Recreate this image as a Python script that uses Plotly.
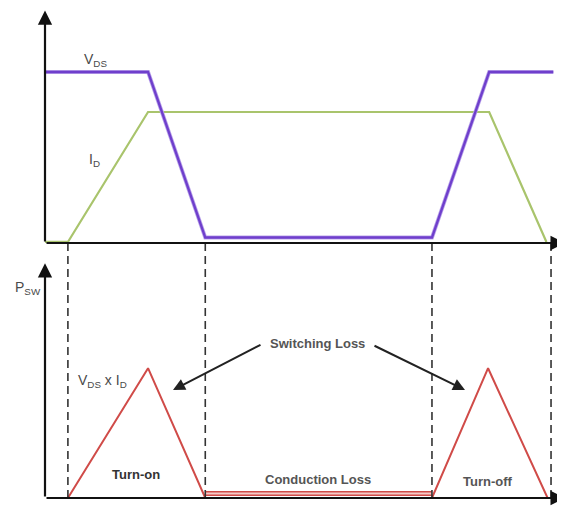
import plotly.graph_objects as go

# time axis (arbitrary units), events where switching happens
t_events = [1.0, 7.0, 16.9, 22.1]

# top panel: drain-source voltage and drain current
t_vds = [0.0, 4.5, 7.0, 16.9, 19.4, 22.2]
vds = [10.0, 10.0, 0.32, 0.32, 10.0, 10.0]

t_id = [0.0, 1.0, 4.5, 19.4, 21.9]
i_d = [0.06, 0.06, 7.66, 7.66, 0.06]

# bottom panel: switching power VDS x ID
t_on = [1.0, 4.5, 7.0]
p_on = [0.0, 5.5, 0.0]
t_cond = [7.0, 16.9]
p_cond = [0.19, 0.19]
t_off = [16.9, 19.35, 21.95]
p_off = [0.0, 5.5, 0.0]

# page body has an 8px margin, so the figure is drawn 8px smaller
OFF = 8
W, H = 565 - OFF, 523 - OFF
X_MIN, X_MAX = -1.616, 22.71
TOP_MAX = 13.74
BOT_MAX = 10.51
T_END = 22.7

purple = "#6f3fcc"
green = "#a9c46c"
red = "#d04b48"
ink = "#111111"
txt = "#4a4a4a"


def paper(px, py):
    # reference-window pixels -> paper coordinates
    return (px - OFF) / W, 1 - (py - OFF) / H


fig = go.Figure()

fig.add_trace(go.Scatter(x=t_id, y=i_d, mode="lines", xaxis="x", yaxis="y",
                         line=dict(color=green, width=2.2)))
fig.add_trace(go.Scatter(x=t_vds, y=vds, mode="lines", xaxis="x", yaxis="y",
                         line=dict(color="#b9a3ea", width=4)))
fig.add_trace(go.Scatter(x=t_vds, y=vds, mode="lines", xaxis="x", yaxis="y",
                         line=dict(color=purple, width=2.4)))

fig.add_trace(go.Scatter(x=t_on, y=p_on, mode="lines", xaxis="x2", yaxis="y2",
                         line=dict(color=red, width=2)))
fig.add_trace(go.Scatter(x=t_off, y=p_off, mode="lines", xaxis="x2", yaxis="y2",
                         line=dict(color=red, width=2)))
fig.add_trace(go.Scatter(x=t_cond, y=p_cond, mode="lines", xaxis="x2", yaxis="y2",
                         line=dict(color=red, width=5)))
fig.add_trace(go.Scatter(x=t_cond, y=p_cond, mode="lines", xaxis="x2", yaxis="y2",
                         line=dict(color="#f6c9c6", width=2)))

# dashed event markers spanning both panels
y_top = paper(0, 243)[1]
y_bot = paper(0, 498)[1]
for te in t_events:
    fig.add_shape(type="line", xref="x", yref="paper", x0=te, x1=te,
                  y0=y_top, y1=y_bot,
                  line=dict(color="#333333", width=1.6, dash="8px,5px"))

# axes drawn as arrows
annotations = []
for xa, ya, ymax in [("x", "y", 13.6), ("x2", "y2", 9.95)]:
    annotations.append(dict(x=T_END, y=0, ax=0, ay=0, xref=xa, yref=ya,
                            axref=xa, ayref=ya, showarrow=True, arrowhead=2,
                            arrowsize=1.3, arrowwidth=2.2, arrowcolor=ink, text=""))
    annotations.append(dict(x=0, y=ymax, ax=0, ay=0, xref=xa, yref=ya,
                            axref=xa, ayref=ya, showarrow=True, arrowhead=2,
                            arrowsize=1.3, arrowwidth=2.2, arrowcolor=ink, text=""))

labels = [
    ("V<sub>DS</sub>", 95, 60, 14, txt),
    ("I<sub>D</sub>", 94, 160, 14, txt),
    ("P<sub>SW</sub>", 28, 288, 14, txt),
    ("V<sub>DS</sub> x I<sub>D</sub>", 102, 381, 14, txt),
    ("<b>Switching Loss</b>", 317, 343, 13, "#555555"),
    ("<b>Turn-on</b>", 136, 474, 13, "#333333"),
    ("<b>Conduction Loss</b>", 318, 479, 13, "#555555"),
    ("<b>Turn-off</b>", 488, 481, 13, "#555555"),
    ("t", 560, 261, 11, ink),
    ("t", 559, 513, 11, ink),
]
for text, px, py, size, col in labels:
    x, y = paper(px, py)
    annotations.append(dict(x=x, y=y, xref="paper", yref="paper", text=text,
                            showarrow=False, font=dict(size=size, color=col),
                            xanchor="center", yanchor="middle"))

# "Switching Loss" pointers
for hx, hy, tx, ty in [(173, 390, 262, 344), (465, 390, 373, 345)]:
    x, y = paper(hx, hy)
    annotations.append(dict(x=x, y=y, xref="paper", yref="paper", text="",
                            ax=tx - hx, ay=ty - hy, showarrow=True, arrowhead=2,
                            arrowsize=1.2, arrowwidth=2, arrowcolor="#222222"))

axis_common = dict(visible=False, showgrid=False, zeroline=False, fixedrange=True)
fig.update_layout(
    width=W, height=H,
    margin=dict(l=0, r=0, t=0, b=0),
    paper_bgcolor="white", plot_bgcolor="white",
    showlegend=False,
    font=dict(family="Liberation Sans, Arial, sans-serif"),
    xaxis=dict(range=[X_MIN, X_MAX], domain=[0, 1], anchor="y", **axis_common),
    yaxis=dict(range=[0, TOP_MAX], domain=[y_top, 1], anchor="x", **axis_common),
    xaxis2=dict(range=[X_MIN, X_MAX], domain=[0, 1], anchor="y2", **axis_common),
    yaxis2=dict(range=[0, BOT_MAX], domain=[y_bot, paper(0, 250)[1]], anchor="x2",
                **axis_common),
    annotations=annotations,
)

fig.write_html("out.html")
